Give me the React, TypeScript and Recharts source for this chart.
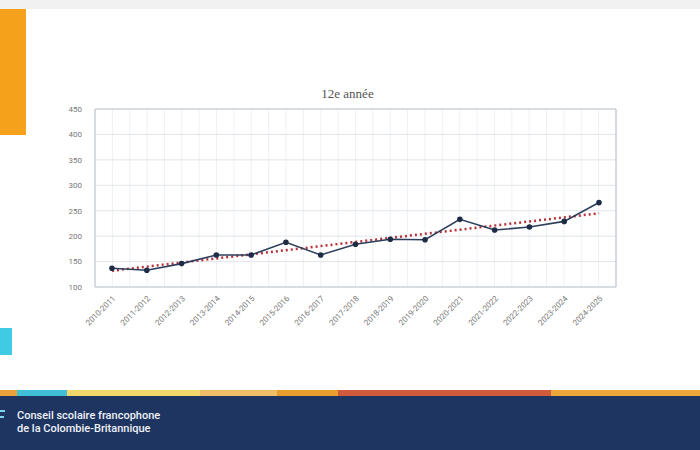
import {
  LineChart,
  Line,
  XAxis,
  YAxis,
  CartesianGrid,
  ReferenceLine,
} from "recharts"

// school years on the x axis
const years = [
  "2010-2011",
  "2011-2012",
  "2012-2013",
  "2013-2014",
  "2014-2015",
  "2015-2016",
  "2016-2017",
  "2017-2018",
  "2018-2019",
  "2019-2020",
  "2020-2021",
  "2021-2022",
  "2022-2023",
  "2023-2024",
  "2024-2025",
]

// 12e année enrolment
const students = [137, 133, 146, 163, 163, 188, 163, 184, 194, 193, 233, 212, 218, 229, 266]

// linear trend, start and end values
const trendStart = 132
const trendEnd = 245

const yTicks = [100, 150, 200, 250, 300, 350, 400, 450]

const stripe = [
  { color: "#e9a23a", w: 17 },
  { color: "#41bfd9", w: 50 },
  { color: "#f2d86b", w: 133 },
  { color: "#f0bd68", w: 77 },
  { color: "#e99f2e", w: 61 },
  { color: "#cf5a3c", w: 213 },
  { color: "#eba73a", w: 149 },
]

const chartData = years.map((y, i) => ({ year: y, value: students[i] }))

const tickStyle = { fontSize: 8, fill: "#777", fontFamily: "Roboto, sans-serif" }

export default function App() {
  return (
    <div
      style={{
        position: "fixed",
        left: 0,
        top: 0,
        width: 700,
        height: 450,
        background: "#fff",
        overflow: "hidden",
      }}
    >
      <div style={{ position: "absolute", left: 0, top: 0, width: 700, height: 9, background: "#f1f1f1" }} />
      <div style={{ position: "absolute", left: 0, top: 9, width: 26, height: 126, background: "#f5a11c" }} />
      <div style={{ position: "absolute", left: 0, top: 328, width: 12, height: 27, background: "#3fcbe3" }} />

      <div
        style={{
          position: "absolute",
          left: 0,
          top: 86,
          width: 695,
          textAlign: "center",
          fontFamily: "'Liberation Serif', serif",
          fontSize: 13,
          color: "#555",
        }}
      >
        12e année
      </div>

      <div style={{ position: "absolute", left: 0, top: 0 }}>
        <LineChart
          width={700}
          height={340}
          data={chartData}
          margin={{ top: 109, right: 84, bottom: 8, left: 55 }}
        >
          <CartesianGrid
            horizontal={false}
            stroke="#eef1f3"
            verticalCoordinatesGenerator={({ offset }: any) =>
              Array.from({ length: 31 }, (_, i) => offset.left + (i * offset.width) / 30)
            }
          />
          <CartesianGrid vertical={false} stroke="#e2e6ea" />
          {/* plot frame */}
          <CartesianGrid
            stroke="#bfc8d0"
            strokeWidth={1.2}
            verticalCoordinatesGenerator={({ offset }: any) => [offset.left, offset.left + offset.width]}
            horizontalCoordinatesGenerator={({ offset }: any) => [offset.top, offset.top + offset.height]}
          />
          <XAxis
            dataKey="year"
            padding={{ left: 17, right: 17 }}
            interval={0}
            axisLine={false}
            tickLine={false}
            height={45}
            tick={{ ...tickStyle, angle: -45, textAnchor: "end" }}
            tickMargin={2}
          />
          <YAxis
            domain={[100, 450]}
            ticks={yTicks}
            width={40}
            axisLine={false}
            tickLine={false}
            tick={tickStyle}
            tickMargin={7}
          />
          <ReferenceLine
            segment={[
              { x: years[0], y: trendStart },
              { x: years[years.length - 1], y: trendEnd },
            ]}
            stroke="#b8323a"
            strokeWidth={2.5}
            strokeDasharray="2 3"
          />
          <Line
            dataKey="value"
            stroke="#2e3f5c"
            strokeWidth={1.6}
            dot={{ r: 2, fill: "#1e2c45", stroke: "#1e2c45" }}
            isAnimationActive={false}
          />
        </LineChart>
      </div>

      <div style={{ position: "absolute", left: 0, top: 390, display: "flex", height: 6 }}>
        {stripe.map((s, i) => (
          <div key={i} style={{ width: s.w, height: 6, background: s.color }} />
        ))}
      </div>
      <div style={{ position: "absolute", left: 0, top: 396, width: 700, height: 54, background: "#1f3561" }} />
      <div style={{ position: "absolute", left: 0, top: 410, width: 5, height: 2, background: "#7fd3ec" }} />
      <div style={{ position: "absolute", left: 0, top: 416, width: 4, height: 2, background: "#7fd3ec" }} />
      <div
        style={{
          position: "absolute",
          left: 17,
          top: 409,
          fontFamily: "Roboto, sans-serif",
          fontSize: 11,
          fontWeight: 500,
          lineHeight: "13px",
          color: "#eef2f8",
        }}
      >
        <div>Conseil scolaire francophone</div>
        <div>de la Colombie-Britannique</div>
      </div>
    </div>
  )
}
